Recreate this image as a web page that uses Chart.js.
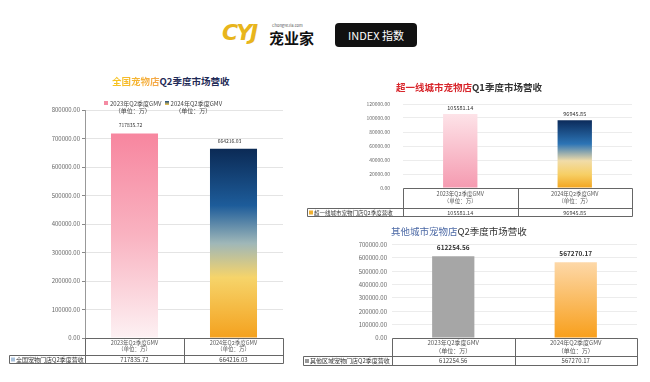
<!DOCTYPE html>
<html>
<head>
<meta charset="utf-8">
<script src="https://cdn.jsdelivr.net/npm/chart.js@4.4.0/dist/chart.umd.min.js"></script>
<style>
    body { margin: 0; background: #fff; font-family: "Noto Sans CJK SC", sans-serif; }
    #page { position: relative; width: 650px; height: 382px; overflow: hidden; }
    .abs { position: absolute; white-space: nowrap; }
    canvas { position: absolute; }
    .title { font-size: 9.5px; color: #333; }
    .legend { font-size: 6px; color: #444; line-height: 7.5px; text-align: center; }
    .swatch { display: inline-block; width: 4px; height: 4px; margin-right: 2px; vertical-align: 1px; }
</style>
</head>
<body>
<div id="page">
    <!-- header -->
    <div class="abs" style="left:222px;top:20px;font:italic bold 22px 'DejaVu Sans';color:#e8b51c;letter-spacing:-2px;">CYJ</div>
    <div class="abs" style="left:272px;top:22px;font-size:4px;color:#555;">ChongYeJia.com</div>
    <div class="abs" style="left:269px;top:27px;font-size:15px;font-weight:bold;color:#111;">宠业家</div>
    <div class="abs" style="left:335px;top:23px;width:82px;height:24px;background:#111;border-radius:4px;color:#fff;font-size:11px;line-height:24px;text-align:center;">INDEX 指数</div>

    <canvas id="nationalChart" width="300" height="275" style="left:0;top:100px;"></canvas>
    <canvas id="tierOneChart" width="345" height="132" style="left:300px;top:88px;"></canvas>
    <canvas id="otherChart" width="345" height="140" style="left:300px;top:236px;"></canvas>

    <div class="abs title" style="left:112px;top:74px;font-weight:bold;">
        <span style="background:linear-gradient(90deg,#f7c51c,#f4a54a);-webkit-background-clip:text;color:transparent;">全国宠物店</span><span style="color:#1f2b57;">Q2季度市场营收</span>
    </div>
    <div class="abs" id="nationalLegend" style="left:104px;top:94px;"></div>
    <div class="abs title" style="left:396px;top:80px;font-weight:bold;">
        <span style="color:#d8262c;">超一线城市宠物店</span><span>Q1季度市场营收</span>
    </div>
    <div class="abs title" style="left:391px;top:224px;">
        <span style="color:#4d6aa6;">其他城市宠物店</span><span>Q2季度市场营收</span>
    </div>
</div>

<script>
// Categories shared by all three panels
const categories = [
    ['2023年Q2季度GMV', '（单位：万）'],
    ['2024年Q2季度GMV', '（单位：万）']
];

// 全国 panel
const nationalName = '全国宠物门店Q2季度营收';
const nationalValues = [717835.72, 664216.03];
const nationalTicks = [0, 100000, 200000, 300000, 400000, 500000, 600000, 700000, 800000];

// 超一线 panel
const tierOneName = '超一线城市宠物门店Q2季度营收';
const tierOneValues = [105581.14, 96945.85];
const tierOneTicks = [0, 20000, 40000, 60000, 80000, 100000, 120000];

// 其他城市 panel
const otherName = '其他区域宠物门店Q2季度营收';
const otherValues = [612254.56, 567270.17];
const otherTicks = [0, 100000, 200000, 300000, 400000, 500000, 600000, 700000];

const FONT = '"Noto Sans CJK SC", sans-serif';

// legend above the national chart (one entry per category)
const legendSwatches = ['#f48ba3', 'linear-gradient(#1a4f8a,#f5c84a)'];
document.getElementById('nationalLegend').innerHTML = categories.map((c, i) =>
    `<div class="legend" style="display:inline-block;margin-right:3px;"><span class="swatch" style="background:${legendSwatches[i]}"></span>${c[0]}<br>${c[1]}</div>`
).join('');

// vertical gradient per bar, from bar top to the zero line
function gradientFill(stopsByIndex) {
    return function(context) {
        const stops = stopsByIndex[context.dataIndex || 0];
        const chart = context.chart;
        if (context.type !== 'data' || !chart.chartArea) return stops[stops.length - 1][1];
        const y = chart.scales.y;
        const top = y.getPixelForValue(context.raw);
        const base = y.getPixelForValue(0);
        if (!isFinite(top) || top === base) return stops[stops.length - 1][1];
        const g = chart.ctx.createLinearGradient(0, top, 0, base);
        stops.forEach(s => g.addColorStop(s[0], s[1]));
        return g;
    };
}

function crisp(v) {
    return Math.round(v) + 0.5;
}

// data table drawn under the plot, columns follow the category scale
function tablePlugin(t) {
    return {
        id: 'dataTable',
        afterDraw(chart) {
            const ctx = chart.ctx;
            const area = chart.chartArea;
            const xs = chart.scales.x;
            const half = (xs.getPixelForTick(1) - xs.getPixelForTick(0)) / 2;
            const top = crisp(area.bottom);
            const r1 = crisp(area.bottom + t.row1);
            const r2 = crisp(area.bottom + t.row1 + t.row2);
            const left = crisp(area.left);
            const tl = crisp(t.left);
            ctx.save();
            ctx.strokeStyle = t.lineColor;
            ctx.lineWidth = 1;
            ctx.beginPath();
            ctx.moveTo(left, top); ctx.lineTo(crisp(area.right), top);
            ctx.moveTo(tl, r1); ctx.lineTo(crisp(area.right), r1);
            ctx.moveTo(tl, r2); ctx.lineTo(crisp(area.right), r2);
            ctx.moveTo(tl, r1); ctx.lineTo(tl, r2);
            ctx.moveTo(left, top); ctx.lineTo(left, r2);
            t.values.forEach((v, i) => {
                const x = crisp(xs.getPixelForTick(i) + half);
                ctx.moveTo(x, top); ctx.lineTo(x, r2);
            });
            ctx.stroke();

            const midY = (r1 + r2) / 2;
            ctx.font = t.font;
            ctx.textBaseline = 'middle';
            ctx.fillStyle = t.swatch;
            ctx.fillRect(t.left + 2, midY - 2, 4, 4);
            ctx.fillStyle = '#333';
            ctx.textAlign = 'left';
            ctx.fillText(t.name, t.left + 7, midY);
            ctx.textAlign = 'center';
            ctx.fillStyle = '#444';
            t.values.forEach((v, i) => {
                ctx.fillText(v.toFixed(2), xs.getPixelForTick(i), midY);
            });
            ctx.restore();
        }
    };
}

// value labels above each bar
function valuePlugin(v) {
    return {
        id: 'barValues',
        afterDatasetsDraw(chart) {
            const ctx = chart.ctx;
            const meta = chart.getDatasetMeta(0);
            ctx.save();
            ctx.font = v.font;
            ctx.fillStyle = v.color;
            ctx.textAlign = 'center';
            ctx.textBaseline = 'middle';
            meta.data.forEach((bar, i) => {
                ctx.fillText(chart.data.datasets[0].data[i].toFixed(2), bar.x + v.dx, bar.y - v.dy);
            });
            ctx.restore();
        }
    };
}

function buildChart(id, cfg) {
    return new Chart(document.getElementById(id), {
        type: 'bar',
        data: {
            labels: categories,
            datasets: [{
                label: cfg.name,
                data: cfg.values,
                backgroundColor: cfg.fill,
                borderWidth: 0,
                barPercentage: cfg.barPct,
                categoryPercentage: 1
            }]
        },
        options: {
            responsive: false,
            animation: false,
            layout: { padding: cfg.padding },
            plugins: {
                legend: { display: false },
                tooltip: { enabled: false }
            },
            scales: {
                x: {
                    grid: { display: false, drawTicks: false },
                    border: { display: false },
                    ticks: {
                        autoSkip: false,
                        maxRotation: 0,
                        padding: cfg.xPad,
                        color: '#555',
                        font: { family: FONT, size: cfg.xFont, lineHeight: cfg.xLine }
                    },
                    afterFit: s => { s.height = cfg.row1; }
                },
                y: {
                    min: cfg.ticks[0],
                    max: cfg.ticks[cfg.ticks.length - 1],
                    afterBuildTicks: s => { s.ticks = cfg.ticks.map(v => ({ value: v })); },
                    grid: {
                        color: cfg.gridColor,
                        drawTicks: cfg.drawTicks,
                        tickLength: 3,
                        tickColor: '#888'
                    },
                    border: { display: cfg.axisLine, color: '#999' },
                    ticks: {
                        padding: cfg.yPad,
                        color: '#666',
                        font: { family: FONT, size: cfg.yFont },
                        callback: v => v.toFixed(2)
                    },
                    afterFit: s => { s.width = cfg.axisWidth; }
                }
            }
        },
        plugins: [
            tablePlugin({ left: cfg.tableLeft, row1: cfg.row1, row2: cfg.row2, name: cfg.name, values: cfg.values,
                          swatch: cfg.swatch, font: `${cfg.tableFont}px ${FONT}`, lineColor: '#666' }),
            valuePlugin(cfg.label)
        ]
    });
}

buildChart('nationalChart', {
    name: nationalName,
    values: nationalValues,
    ticks: nationalTicks,
    fill: gradientFill([
        [[0, '#f7869f'], [0.5, '#f9b3c1'], [1, '#fdf1f3']],
        [[0, '#0b2a55'], [0.3, '#1d5c9a'], [0.5, '#9fb7b8'], [0.68, '#f6d46a'], [1, '#f4a11e']]
    ]),
    barPct: 0.475,
    padding: { top: 10, left: 0, right: 17, bottom: 20 },
    axisWidth: 85, row1: 17, row2: 8, tableLeft: 9,
    xPad: 2, xFont: 5.5, xLine: 1.1,
    yPad: 2, yFont: 6, drawTicks: true, axisLine: true, gridColor: '#e4e4e4',
    swatch: '#a9c2dc', tableFont: 6,
    label: { font: `5px ${FONT}`, color: '#333', dx: -4, dy: 8 }
});

buildChart('tierOneChart', {
    name: tierOneName,
    values: tierOneValues,
    ticks: tierOneTicks,
    fill: gradientFill([
        [[0, '#fde3e8'], [1, '#f59ab0']],
        [[0, '#0b2a5a'], [0.35, '#2c74b5'], [0.6, '#f1dca8'], [0.8, '#f7cf65'], [1, '#f2a51f']]
    ]),
    barPct: 0.3,
    padding: { top: 8, left: 0, right: 13, bottom: 12 },
    axisWidth: 103, row1: 20, row2: 8, tableLeft: 7,
    xPad: 2, xFont: 5.5, xLine: 1.3,
    yPad: 13, yFont: 5, drawTicks: false, axisLine: false, gridColor: '#ececec',
    swatch: '#f0b030', tableFont: 5.5,
    label: { font: `5.5px ${FONT}`, color: '#333', dx: 0, dy: 6 }
});

buildChart('otherChart', {
    name: otherName,
    values: otherValues,
    ticks: otherTicks,
    fill: gradientFill([
        [[0, '#a6a6a6'], [1, '#a6a6a6']],
        [[0, '#fdd8a8'], [1, '#f89f1b']]
    ]),
    barPct: 0.345,
    padding: { top: 8, left: 0, right: 8, bottom: 20 },
    axisWidth: 92, row1: 18, row2: 9, tableLeft: 3,
    xPad: 1, xFont: 6, xLine: 1.3,
    yPad: 5, yFont: 6, drawTicks: false, axisLine: false, gridColor: '#ececec',
    swatch: '#9a9a9a', tableFont: 6,
    label: { font: `bold 6.5px ${FONT}`, color: '#333', dx: 0, dy: 8.5 }
});
</script>
</body>
</html>
